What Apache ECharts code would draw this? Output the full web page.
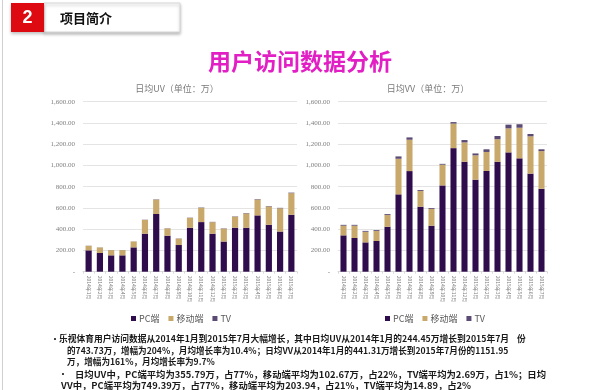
<!DOCTYPE html>
<html><head><meta charset="utf-8">
<script src="https://cdn.jsdelivr.net/npm/echarts@6/dist/echarts.min.js"></script>
<style>html,body{margin:0;padding:0;background:#fff;}#c{width:600px;height:390px;}</style>
</head><body><div id="c"></div>
<script>
const categories = ['2014年1月','2014年2月','2014年3月','2014年4月','2014年5月','2014年6月','2014年7月','2014年8月','2014年9月','2014年10月','2014年11月','2014年12月','2015年1月','2015年2月','2015年3月','2015年4月','2015年5月','2015年6月','2015年7月'];
const seriesNames = ['PC端','移动端','TV'];
const uvPC = [201,176,154,154,229,358,543,339,251,414,467,358,284,414,414,530,442,378,536];
const uvMobile = [42,52,49,49,55,129,135,68,60,93,135,108,121,104,134,150,172,219,203];
const uvTV = [1.5,1,1,1,1,2,3,2,2,2,3,3,3,3,4,4,4,4,5];
const vvPC = [342,317,276,289,423,728,947,612,433,812,1163,1035,866,948,1035,1123,1067,923,780];
const vvMobile = [91,116,100,94,110,335,295,147,157,195,231,182,229,179,212,226,288,351,355];
const vvTV = [8,8,8,8,9,22,22,9,8,8,14,22,18,25,30,35,33,22,17];
const yTicks = {min:0, max:1600, interval:200};
const textLines = [
  '乐视体育用户访问数据从2014年1月到2015年7月大幅增长，其中日均UV从2014年1月的244.45万增长到2015年7月    份',
  '的743.73万，增幅为204%，月均增长率为10.4%；日均VV从2014年1月的441.31万增长到2015年7月份的1151.95',
  '万，增幅为161%，月均增长率为9.7%',
  '日均UV中，PC端平均为355.79万，占77%，移动端平均为102.67万，占22%，TV端平均为2.69万，占1%；日均',
  'VV中，PC端平均为749.39万，占77%，移动端平均为203.94，占21%，TV端平均为14.89，占2%'
];

const colors = ['#2f0d4d','#c9a96b','#5b4a73'];
const chart = echarts.init(document.getElementById('c'));
const fontCJK = '"Noto Sans CJK SC", "Noto Sans", sans-serif';

function yAxis(idx){
  return {type:'value', gridIndex:idx, min:yTicks.min, max:yTicks.max, interval:yTicks.interval,
    axisLine:{show:false}, axisTick:{show:false},
    splitLine:{lineStyle:{color:'#e4e4e4', width:1}},
    axisLabel:{fontSize:7, color:'#808080', fontFamily:'"Liberation Serif", serif', margin:8,
      formatter:v => v===0 ? '-' : v.toLocaleString('en-US',{minimumFractionDigits:2, maximumFractionDigits:2})}};
}
function xAxis(idx){
  return {type:'category', gridIndex:idx, data:categories,
    axisLine:{lineStyle:{color:'#d9d9d9'}}, axisTick:{show:true, alignWithLabel:false, length:2, lineStyle:{color:'#d9d9d9'}},
    axisLabel:{rotate:-90, fontSize:5, color:'#808080', interval:0, margin:4, fontFamily:fontCJK}};
}
function bars(idx, arrs){
  return arrs.map((d,i)=>({name:seriesNames[i], type:'bar', stack:'s'+idx, xAxisIndex:idx, yAxisIndex:idx,
    data:d, barWidth:'55%', itemStyle:{color:colors[i]}}));
}

const graphic = [
  {type:'rect', shape:{x:2, y:0, width:1, height:390}, style:{fill:'#d0d0d0'}},
  {type:'rect', shape:{x:44, y:3, width:136, height:29}, style:{fill:'#fff', stroke:'#d6d6d6', lineWidth:1, shadowBlur:3, shadowOffsetY:2, shadowColor:'rgba(0,0,0,0.25)'}},
  {type:'rect', shape:{x:11, y:3, width:33, height:29}, style:{fill:'#dd0a12', shadowBlur:3, shadowOffsetY:2, shadowColor:'rgba(0,0,0,0.25)'}},
  {type:'text', x:27.5, y:18, style:{text:'2', fill:'#fff', fontSize:18, fontWeight:'bold', fontFamily:'"Liberation Sans", Arial', align:'center', verticalAlign:'middle'}},
  {type:'text', x:60, y:18, style:{text:'项目简介', fill:'#111', fontSize:13, fontWeight:'bold', fontFamily:fontCJK, verticalAlign:'middle'}},
  {type:'text', x:50, y:339, style:{text:'•', fill:'#222', fontSize:10, fontFamily:fontCJK, verticalAlign:'middle'}},
  {type:'text', x:58, y:374, style:{text:'•', fill:'#222', fontSize:10, fontFamily:fontCJK, verticalAlign:'middle'}}
];
const textPos = [[59,339,8.75],[67,351,8.6],[67,362,8.6],[75,374,9.35],[61,385,9.35]];
textLines.forEach((t,i)=>{
  graphic.push({type:'text', x:textPos[i][0], y:textPos[i][1], style:{text:t, fill:'#1a1a1a', fontSize:textPos[i][2], fontWeight:'bold', fontFamily:fontCJK, verticalAlign:'middle'}});
});

chart.setOption({
  animation:false,
  backgroundColor:'#fff',
  color:colors,
  title:[
    {text:'用户访问数据分析', left:'center', top:45, textStyle:{color:'#e21fc4', fontSize:23, fontWeight:'bold', fontFamily:fontCJK}},
    {text:'日均UV（单位：万）', left:172, top:79, textAlign:'center', textStyle:{color:'#7a7a7a', fontSize:9, fontWeight:'normal', fontFamily:fontCJK}},
    {text:'日均VV（单位：万）', left:423, top:79, textAlign:'center', textStyle:{color:'#7a7a7a', fontSize:9, fontWeight:'normal', fontFamily:fontCJK}}
  ],
  legend:[
    {data:seriesNames, left:131, top:314, padding:0, itemWidth:5, itemHeight:5, itemGap:9, icon:'rect', textStyle:{fontSize:9, color:'#595959', fontFamily:fontCJK, padding:[0,0,0,-2]}, selectedMode:false},
    {data:seriesNames, left:385, top:314, padding:0, itemWidth:5, itemHeight:5, itemGap:9, icon:'rect', textStyle:{fontSize:9, color:'#595959', fontFamily:fontCJK, padding:[0,0,0,-2]}, selectedMode:false}
  ],
  grid:[
    {left:83, right:303, top:101.7, bottom:118.3},
    {left:338, right:53, top:101.7, bottom:118.3}
  ],
  xAxis:[xAxis(0), xAxis(1)],
  yAxis:[yAxis(0), yAxis(1)],
  series:[...bars(0,[uvPC,uvMobile,uvTV]), ...bars(1,[vvPC,vvMobile,vvTV])],
  graphic:graphic
});
</script></body></html>
